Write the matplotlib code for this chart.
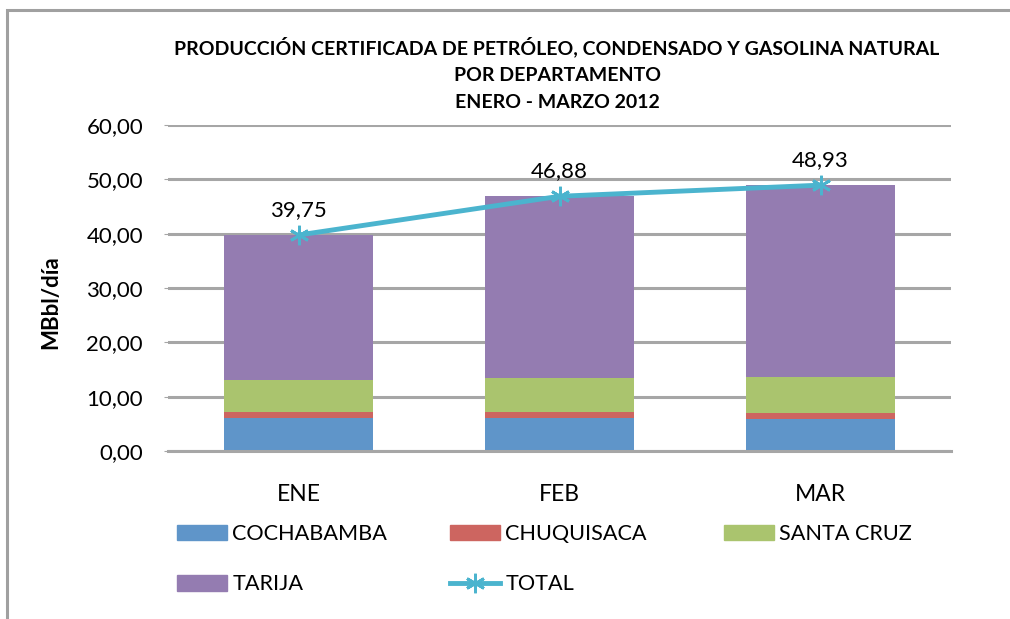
import numpy as np
import matplotlib.pyplot as plt
from matplotlib.lines import Line2D
from matplotlib.patches import Patch, Rectangle

plt.rcParams['font.family'] = ['Lato', 'DejaVu Sans']

months = ["ENE", "FEB", "MAR"]
cochabamba = [6.08, 6.08, 5.82]
chuquisaca = [1.03, 1.03, 1.11]
santa_cruz = [6.02, 6.33, 6.62]
tarija = [26.62, 33.44, 35.38]
total = [39.75, 46.88, 48.93]
y_ticks = [0, 10, 20, 30, 40, 50, 60]

series = [
    ("COCHABAMBA", cochabamba, "#5F95C9"),
    ("CHUQUISACA", chuquisaca, "#CD6560"),
    ("SANTA CRUZ", santa_cruz, "#AAC46E"),
    ("TARIJA", tarija, "#947CB1"),
]
line_color = "#4BB4CE"
grid_color = "#A6A6A6"
star = (6, 2, 0)


def fmt(v):
    return f"{v:.2f}".replace(".", ",")


W, H = 1010, 619
fig = plt.figure(figsize=(W / 100, H / 100), dpi=100)
fig.patches.append(Rectangle((7 / W, -0.1), 1.2, 1 - 10 / H + 0.1,
                             transform=fig.transFigure, fill=False,
                             edgecolor="#A0A0A0", linewidth=2.2))

ax = fig.add_axes([168 / W, 168 / H, 783 / W, 326 / H])
x = np.arange(len(months))
bottom = np.zeros(len(months))
for name, vals, color in series:
    ax.bar(x, vals, width=0.57, bottom=bottom, color=color, zorder=2)
    bottom += np.array(vals)

ax.plot(x, total, color=line_color, linewidth=3.5, marker=star,
        markersize=14, markeredgewidth=2, zorder=4)
for xi, v in zip(x, total):
    ax.annotate(fmt(v), (xi, v), xytext=(0, 11), textcoords="offset points",
                ha="center", va="bottom", fontsize=16)

ax.set_xlim(-0.5, 2.5)
ax.set_ylim(0, 60)
ax.set_yticks(y_ticks)
ax.set_yticklabels([fmt(v) for v in y_ticks], fontsize=16)
ax.set_xticks(x)
ax.set_xticklabels(months, fontsize=16.5)
ax.tick_params(axis="y", length=3, color=grid_color, pad=15)
ax.tick_params(axis="x", length=0, pad=24)
ax.yaxis.grid(True, color=grid_color, linewidth=2.2, zorder=0)
ax.set_axisbelow(True)
for s in ["top", "right", "left"]:
    ax.spines[s].set_visible(False)
ax.spines["bottom"].set_color(grid_color)
ax.spines["bottom"].set_linewidth(2.2)

fig.text(51 / W, 1 - 302 / H, "MBbl/día", rotation=90, ha="center",
         va="center", fontsize=16, fontweight="bold")

fig.text(557 / W, 1 - 74 / H,
         "PRODUCCIÓN CERTIFICADA DE PETRÓLEO, CONDENSADO Y GASOLINA NATURAL\n"
         "POR DEPARTAMENTO\nENERO - MARZO 2012",
         ha="center", va="center", fontsize=14, fontweight="bold",
         linespacing=1.7)

handles = [Patch(color=c) for _, _, c in series]
labels = [n for n, _, _ in series]
handles.append(Line2D([], [], color=line_color, linewidth=3.5, marker=star,
                      markersize=14, markeredgewidth=2))
labels.append("TOTAL")
columns = [([0, 3], 177), ([1, 4], 450), ([2], 724)]
for idx, x0 in columns:
    leg = fig.legend([handles[i] for i in idx], [labels[i] for i in idx],
                     loc="upper left", bbox_to_anchor=(x0 / W, 1 - 524 / H),
                     frameon=False, fontsize=15.6, handlelength=2.3,
                     handleheight=0.75, labelspacing=1.4, handletextpad=0.25,
                     borderpad=0, borderaxespad=0)

fig.savefig("out.png", dpi=100)
